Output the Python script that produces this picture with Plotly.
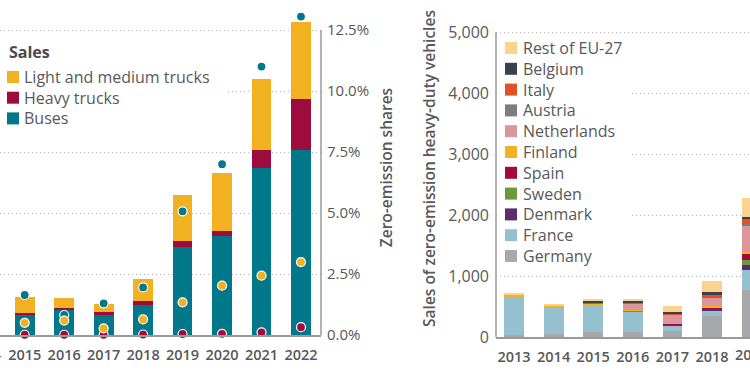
import plotly.graph_objects as go

W, H = 750, 375
FONT = "Open Sans"
TXT = "#58585a"

# ---------------- Left chart data ----------------
years_left = [2015, 2016, 2017, 2018, 2019, 2020, 2021, 2022]
sales_buses = [333, 415, 323, 487, 1438, 1623, 2733, 3033]
sales_heavy = [33, 33, 54, 66, 98, 82, 300, 831]
sales_light = [262, 154, 131, 371, 759, 946, 1164, 1273]
share_buses = [1.64, 0.82, 1.30, 1.95, 5.07, 7.00, 11.0, 13.05]
share_light = [0.50, 0.59, 0.27, 0.64, 1.34, 2.02, 2.43, 2.99]
share_heavy = [0.01, 0.01, 0.01, 0.02, 0.04, 0.05, 0.11, 0.32]
left_names = ["Buses", "Heavy trucks", "Light and medium trucks"]
left_colors = ["#00788A", "#9E0B3F", "#F2B120"]
share_ticks = [0, 2.5, 5.0, 7.5, 10.0, 12.5]
share_ticktext = ["0.0%", "2.5%", "5.0%", "7.5%", "10.0%", "12.5%"]

# ---------------- Right chart data ----------------
years_right = [2013, 2014, 2015, 2016, 2017, 2018, 2019]
countries = ["Germany", "France", "Denmark", "Sweden", "Spain", "Finland",
             "Netherlands", "Austria", "Italy", "Belgium", "Rest of EU-27"]
germany = [27, 55, 75, 90, 93, 344, 770]
france = [628, 450, 455, 325, 98, 87, 328]
denmark = [0, 0, 0, 0, 0, 39, 82]
sweden = [0, 0, 0, 25, 0, 0, 82]
spain = [0, 0, 0, 0, 20, 20, 110]
finland = [44, 10, 20, 5, 0, 17, 26]
netherlands = [0, 0, 0, 110, 154, 136, 437]
austria = [0, 0, 0, 0, 0, 0, 25]
italy = [0, 0, 10, 15, 18, 60, 90]
belgium = [0, 0, 35, 30, 27, 28, 25]
rest_eu = [22, 25, 30, 25, 93, 185, 300]
country_values = [germany, france, denmark, sweden, spain, finland,
                  netherlands, austria, italy, belgium, rest_eu]
country_colors = ["#A7A8AC", "#94C0CF", "#5B2C6F", "#6A9A3A", "#A4093A", "#F2B120",
                  "#D9969B", "#7D7C82", "#E05128", "#39434E", "#FBD38C"]
sales_ticks = [0, 1000, 2000, 3000, 4000, 5000]

# ---------------- geometry (pixels -> paper) ----------------
def px(x):
    return x / W

def py(y):
    return 1 - y / H

L_X0, L_X1 = 0, 321          # left plot area
L_Y0 = 335                   # baseline of left chart
R_X0, R_X1 = 496, 750        # right plot area
R_Y0 = 337                   # baseline of right chart
L_RANGE = [2014.374, 2022.507]
R_RANGE = [2012.545, 2018.96]
L_PPU = 24.4                 # pixels per percentage point
R_PPU = 0.061                # pixels per vehicle

fig = go.Figure()

sales_left = [sales_buses, sales_heavy, sales_light]
for name, vals, col in zip(left_names, sales_left, left_colors):
    fig.add_trace(go.Bar(x=years_left, y=vals, name=name, marker_color=col,
                         marker_line_width=0, width=0.5, xaxis="x", yaxis="y",
                         showlegend=False))

shares_left = [share_buses, share_heavy, share_light]
for name, vals, col in zip(left_names, shares_left, left_colors):
    fig.add_trace(go.Scatter(x=years_left, y=vals, mode="markers", name=name + " share",
                             marker=dict(color=col, size=9, line=dict(color="white", width=1.2)),
                             xaxis="x", yaxis="y2", cliponaxis=False, showlegend=False))

for name, vals, col in zip(countries, country_values, country_colors):
    fig.add_trace(go.Bar(x=years_right, y=vals, name=name, marker_color=col,
                         marker_line_width=0, width=0.5, xaxis="x2", yaxis="y3",
                         showlegend=False))

tickfont_x = dict(family=FONT, size=14.5, color=TXT, weight=600)
tickfont_yl = dict(family=FONT, size=15, color=TXT)
tickfont_yr = dict(family=FONT, size=16, color=TXT)
titlefont = dict(family=FONT, size=15.5, color=TXT, weight=600)
legfont = dict(family=FONT, size=16, color=TXT)
grid = dict(showgrid=True, gridcolor="#b8b8b8", gridwidth=1, griddash="1px,3px")

fig.update_layout(
    width=W, height=H, margin=dict(l=0, r=0, t=0, b=0),
    paper_bgcolor="white", plot_bgcolor="white", barmode="stack",
    font=dict(family=FONT, color=TXT), showlegend=False,
    xaxis=dict(domain=[px(L_X0), px(L_X1)], range=L_RANGE, anchor="y",
               tickvals=years_left, tickfont=tickfont_x, showline=True,
               linecolor="#9a9a9a", linewidth=1.5, showgrid=False, zeroline=False,
               ticks="", ticklabelstandoff=6, automargin=False),
    yaxis=dict(domain=[py(L_Y0), 1], range=[0, L_Y0 / L_PPU / 2.5 * 1000],
               visible=False, anchor="x", showgrid=False, zeroline=False),
    yaxis2=dict(overlaying="y", side="right", anchor="x",
                range=[0, L_Y0 / L_PPU], tickvals=share_ticks, ticktext=share_ticktext,
                tickfont=tickfont_yl, zeroline=False, showline=False,
                ticks="", ticklabelstandoff=5, automargin=False,
                title=dict(text="Zero-emission shares", standoff=13, font=titlefont),
                **grid),
    xaxis2=dict(domain=[px(R_X0), px(R_X1)], range=R_RANGE, anchor="y3",
                tickvals=years_right, tickfont=tickfont_x, showline=True,
                linecolor="#9a9a9a", linewidth=1.5, showgrid=False, zeroline=False,
                ticks="", ticklabelstandoff=6, automargin=False),
    yaxis3=dict(domain=[py(R_Y0), 1], range=[0, R_Y0 / R_PPU], anchor="x2",
                tickvals=sales_ticks, tickformat=",", tickfont=tickfont_yr,
                zeroline=False, showline=False, ticks="", ticklabelstandoff=6,
                automargin=False,
                title=dict(text="Sales of zero-emission heavy-duty vehicles", standoff=8,
                           font=titlefont),
                **grid),
)

shapes = []
# vertical axis lines (only up to the top tick)
shapes.append(dict(type="line", xref="x domain", yref="y2", x0=1, x1=1,
                   y0=0, y1=share_ticks[-1], line=dict(color="#9a9a9a", width=1.5)))
shapes.append(dict(type="line", xref="x2 domain", yref="y3", x0=0, x1=0,
                   y0=0, y1=sales_ticks[-1], line=dict(color="#9a9a9a", width=1.5)))
# legend backgrounds
shapes.append(dict(type="rect", xref="paper", yref="paper", x0=px(0), x1=px(226),
                   y0=py(128), y1=py(38), fillcolor="white", line_width=0, layer="above"))
shapes.append(dict(type="rect", xref="paper", yref="paper", x0=px(498), x1=px(632),
                   y0=py(266), y1=py(37), fillcolor="white", line_width=0, layer="above"))

annotations = []
# left legend
annotations.append(dict(text="<b>Sales</b>", xref="paper", yref="paper", x=px(7), y=py(52),
                        xanchor="left", yanchor="middle", showarrow=False,
                        font=dict(family=FONT, size=16, color="#4a4a4c")))
left_leg = list(zip(left_names, left_colors))[::-1]
for i, (name, col) in enumerate(left_leg):
    yc = 77 + i * 20.7
    shapes.append(dict(type="rect", xref="paper", yref="paper", x0=px(7), x1=px(19),
                       y0=py(yc + 6), y1=py(yc - 6), fillcolor=col, line_width=0, layer="above"))
    annotations.append(dict(text=name, xref="paper", yref="paper", x=px(22), y=py(yc),
                            xanchor="left", yanchor="middle", showarrow=False, font=legfont))
# right legend
right_leg = list(zip(countries, country_colors))[::-1]
for i, (name, col) in enumerate(right_leg):
    yc = 48 + i * 20.8
    shapes.append(dict(type="rect", xref="paper", yref="paper", x0=px(505), x1=px(517),
                       y0=py(yc + 6), y1=py(yc - 6), fillcolor=col, line_width=0, layer="above"))
    annotations.append(dict(text=name, xref="paper", yref="paper", x=px(521), y=py(yc),
                            xanchor="left", yanchor="middle", showarrow=False, font=legfont))

# tick labels of categories cut off by the window edges
def year_to_paper(year, rng, x0, x1):
    return px(x0) + (year - rng[0]) / (rng[1] - rng[0]) * (px(x1) - px(x0))

annotations.append(dict(text=str(years_right[-1]), xref="paper", yref="paper",
                        x=year_to_paper(years_right[-1], R_RANGE, R_X0, R_X1), y=py(354),
                        xanchor="center", yanchor="middle", showarrow=False,
                        font=tickfont_x))
annotations.append(dict(text=str(years_left[0] - 1), xref="paper", yref="paper",
                        x=year_to_paper(years_left[0] - 1, L_RANGE, L_X0, L_X1), y=py(354),
                        xanchor="center", yanchor="middle", showarrow=False,
                        font=tickfont_x))

fig.update_layout(shapes=shapes, annotations=annotations)
fig.write_html("out.html", config={"displayModeBar": False},
               post_script="document.body.style.margin='0';")
